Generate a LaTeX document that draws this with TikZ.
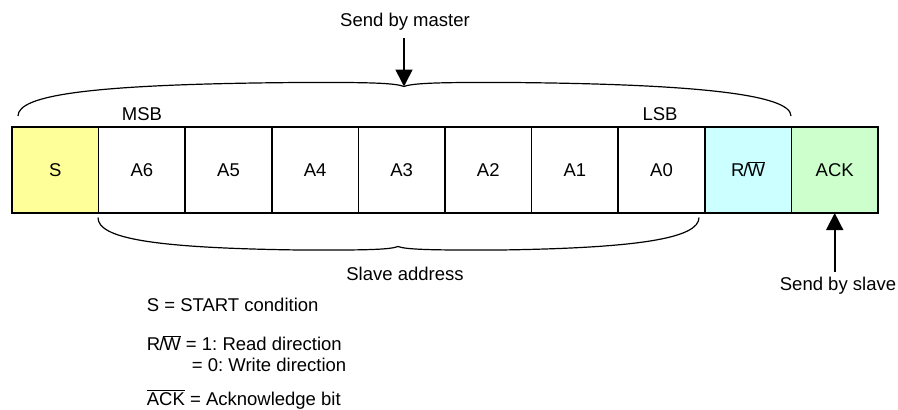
\documentclass[tikz,border=0pt]{standalone}
\usepackage{fontspec}
\setmainfont{Liberation Sans}
\usetikzlibrary{arrows.meta}
\definecolor{syel}{HTML}{FFFF99}
\definecolor{rwcyan}{HTML}{CCFFFF}
\definecolor{ackgreen}{HTML}{CCFFCC}
\frenchspacing
\tikzset{
  bit/.style={draw, line width=1.6pt, minimum width=86.6pt, minimum height=86pt,
    inner sep=0pt, outer sep=0pt, text height=13.3pt, text depth=0pt, anchor=center},
  brace/.style={line width=1.2pt},
  arr/.style={line width=1.6pt, -{Triangle[width=17pt,length=17pt]}},
  lbl/.style={inner sep=0pt, anchor=base},
  lbll/.style={inner sep=0pt, anchor=base west}
}
\begin{document}
\begin{tikzpicture}[x=1pt, y=-1pt, font=\fontsize{18.5pt}{22pt}\selectfont]
\useasboundingbox (0,0) rectangle (898,410);
% bit boxes
\node[bit, fill=syel] (s)  at (55.3,170) {S};
\node[bit] (a6) at (141.9,170) {A6};
\node[bit] (a5) at (228.5,170) {A5};
\node[bit] (a4) at (315.1,170) {A4};
\node[bit] (a3) at (401.7,170) {A3};
\node[bit] (a2) at (488.3,170) {A2};
\node[bit] (a1) at (574.9,170) {A1};
\node[bit] (a0) at (661.5,170) {A0};
\node[bit, fill=rwcyan] (rw) at (748.1,170) {R\kern-1pt/\kern-1pt$\overline{\mbox{W}}$};
\node[bit, fill=ackgreen] (ack) at (834.7,170) {ACK};
% labels
\node[lbl] (msb) at (142,120) {MSB};
\node[lbl] (lsb) at (660,120) {LSB};
\node[lbl] (master) at (405,26.7) {Send by master};
\node[lbl] (slaveaddr) at (405,280) {Slave address};
\node[lbl] (slave) at (838,290) {Send by slave};
% top brace
\coordinate (tl) at (18,116);
\coordinate (ttip) at (404,86.5);
\coordinate (tr) at (791,116);
\draw[brace] (tl) .. controls (18,95) and (90,84) .. (300,82.5)
  .. controls (370,82.2) and (395,83) .. (ttip)
  .. controls (413,83) and (440,82.2) .. (510,82.5)
  .. controls (700,84) and (791,95) .. (tr);
% bottom brace
\coordinate (bl) at (98,217.5);
\coordinate (btip) at (398,246.5);
\coordinate (br) at (699,217.5);
\draw[brace] (bl) .. controls (98,238) and (150,248) .. (300,250)
  .. controls (370,250.3) and (390,249.5) .. (btip)
  .. controls (406,249.5) and (430,250.3) .. (500,250)
  .. controls (640,248) and (699,238) .. (br);
% arrows
\coordinate (mstart) at (404,38);
\draw[arr] (mstart) -- (ttip);
\coordinate (sstart) at (834.7,272);
\draw[arr] (sstart) -- (ack.south);
% legend
\node[lbll] (lgs) at (146.7,311.7) {S = START condition};
\node[lbll] (lgrw) at (146.7,350) {R\kern-1pt/\kern-1pt$\overline{\mbox{W}}$ = 1: Read direction};
\node[lbll] (lgw) at (191.7,371.7) {= 0: Write direction};
\node[lbll] (lgack) at (146.7,405) {$\overline{\mbox{ACK}}$ = Acknowledge bit};
\end{tikzpicture}
\end{document}
